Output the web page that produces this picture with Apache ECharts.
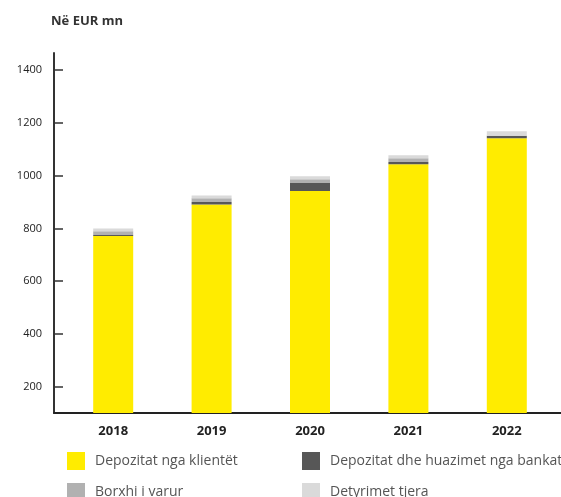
<!DOCTYPE html>
<html>
<head>
<meta charset="utf-8">
<script src="https://cdn.jsdelivr.net/npm/echarts@6/dist/echarts.min.js"></script>
<style>
html,body{margin:0;padding:0;background:#fff;}
#c{width:561px;height:497px;}
</style>
</head>
<body>
<div id="c"></div>
<script>
var years = ['2018', '2019', '2020', '2021', '2022'];
var clientDeposits = [771, 891, 942, 1043, 1142];
var bankDeposits = [4, 9, 30, 9, 9];
var subordinatedDebt = [14, 14, 14, 14, 0];
var otherLiabilities = [11, 11, 12, 11, 17];
var yTicks = [200, 400, 600, 800, 1000, 1200, 1400];
var seriesNames = ['Depozitat nga klientët', 'Depozitat dhe huazimet nga bankat', 'Borxhi i varur', 'Detyrimet tjera'];

var FONT = 'Open Sans';
var chart = echarts.init(document.getElementById('c'));
var yMin = 100, yMax = 1465;

function bar(name, data, color) {
  return {
    name: name, type: 'bar', stack: 'total', data: data,
    xAxisIndex: 0, yAxisIndex: 0, barWidth: 40,
    itemStyle: { color: color }, silent: true
  };
}
function leg(name, left, top) {
  return {
    data: [name], left: left, top: top,
    itemWidth: 18, itemHeight: 18, icon: 'rect', selectedMode: false,
    textStyle: { fontFamily: FONT, fontSize: 14, color: '#555', padding: [0, 0, 0, 5] }
  };
}

chart.setOption({
  animation: false,
  title: {
    text: 'Në EUR mn', left: 46, top: 10,
    textStyle: { fontFamily: FONT, fontSize: 13, fontWeight: 'bold', color: '#333' }
  },
  grid: [
    { left: 64, right: 5, top: 53, bottom: 84 },
    { left: 54, right: 0, top: 53, bottom: 84 }
  ],
  xAxis: [
    { type: 'category', data: years, gridIndex: 0, show: false },
    {
      type: 'category', data: years, gridIndex: 1,
      axisLine: { show: true, lineStyle: { color: '#222', width: 2 } },
      axisTick: { show: false }, axisLabel: { show: false }
    },
    {
      type: 'category', data: years, gridIndex: 0, position: 'bottom',
      axisLine: { show: false }, axisTick: { show: false },
      axisLabel: { margin: 12, fontFamily: FONT, fontSize: 13, fontWeight: 'bold', color: '#222' }
    }
  ],
  yAxis: [
    { type: 'value', gridIndex: 0, min: yMin, max: yMax, show: false },
    {
      type: 'value', gridIndex: 1, min: yMin, max: yMax,
      splitLine: { show: false },
      axisLine: { show: true, lineStyle: { color: '#333', width: 2 } },
      axisTick: { show: true, inside: true, length: 9, customValues: yTicks, lineStyle: { color: '#333', width: 1.5 } },
      axisLabel: {
        customValues: yTicks, margin: 12, fontFamily: FONT, fontSize: 11, color: '#222',
        formatter: function (v) { return String(v); }
      }
    }
  ],
  legend: [
    leg(seriesNames[0], 62, 447),
    leg(seriesNames[2], 62, 478),
    leg(seriesNames[1], 297, 447),
    leg(seriesNames[3], 297, 478)
  ],
  series: [
    bar(seriesNames[0], clientDeposits, '#ffec00'),
    bar(seriesNames[1], bankDeposits, '#575757'),
    bar(seriesNames[2], subordinatedDebt, '#b1b1b1'),
    bar(seriesNames[3], otherLiabilities, '#dadada')
  ]
});
</script>
</body>
</html>
